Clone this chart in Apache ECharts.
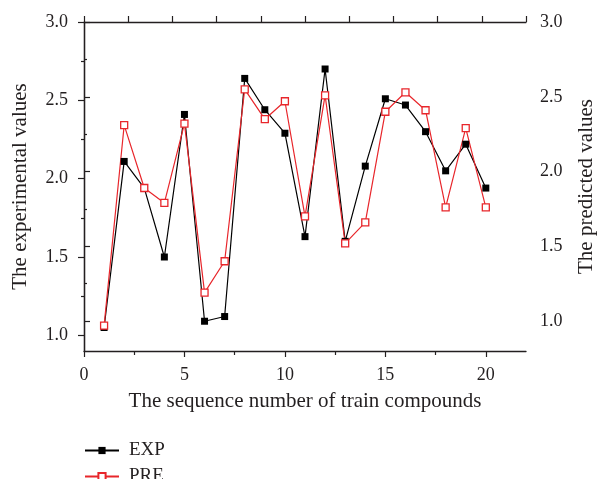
<!doctype html>
<html>
<head>
    <meta charset="UTF-8">
    <title>EXP vs PRE</title>
    <script src="https://cdn.jsdelivr.net/npm/echarts@6/dist/echarts.min.js"></script>
</head>
<body style="margin: 0">
<div id="main" style="width: 597px; height: 479px;"></div>
<script type="text/javascript">
    // sequence numbers of the train compounds
    var seqNo = [1, 2, 3, 4, 5, 6, 7, 8, 9, 10, 11, 12, 13, 14, 15, 16, 17, 18, 19, 20];
    // experimental values (left axis)
    var expValues = [1.05, 2.11, 1.94, 1.50, 2.41, 1.09, 1.12, 2.64, 2.44, 2.29,
        1.63, 2.70, 1.60, 2.08, 2.51, 2.47, 2.30, 2.05, 2.22, 1.94];
    // predicted values (right axis)
    var preValues = [0.97, 2.31, 1.89, 1.79, 2.32, 1.19, 1.40, 2.55, 2.35, 2.47,
        1.70, 2.51, 1.52, 1.66, 2.40, 2.53, 2.41, 1.76, 2.29, 1.76];
    // tick labels
    var xTicks = [0, 5, 10, 15, 20];
    var yTicks = [1.0, 1.5, 2.0, 2.5, 3.0];

    var font = '"Liberation Serif", "DejaVu Serif", serif';
    var ink = '#231f20';

    function pairs(vals) {
        var out = [];
        for (var i = 0; i < seqNo.length; i++) {
            out.push([seqNo[i], vals[i]]);
        }
        return out;
    }

    var myChart = echarts.init(document.getElementById('main'));
    var option = {
        backgroundColor: '#fff',
        animation: false,
        textStyle: {fontFamily: font, color: ink},
        grid: {left: 84, right: 71, top: 22, bottom: 128, containLabel: false, outerBoundsMode: 'none'},
        legend: {
            orient: 'vertical',
            left: 84,
            top: 441,
            height: 60,
            padding: 0,
            itemWidth: 34,
            itemHeight: 9,
            itemGap: 7,
            textStyle: {fontFamily: font, fontSize: 19, color: ink, padding: [0, 0, 0, 5]},
            data: ['EXP', 'PRE']
        },
        xAxis: [
            {
                type: 'value',
                min: 0,
                max: 22,
                name: 'The sequence number of train compounds',
                nameLocation: 'middle',
                nameGap: 40,
                nameTextStyle: {fontFamily: font, fontSize: 21, color: ink},
                axisLine: {lineStyle: {color: ink, width: 1.3}},
                axisTick: {length: 6, lineStyle: {color: ink, width: 1.2}, customValues: xTicks},
                minorTick: {show: true, splitNumber: 2, length: 4, lineStyle: {color: ink, width: 1.2}},
                axisLabel: {
                    margin: 15, fontSize: 18, color: ink, fontFamily: font,
                    customValues: xTicks
                },
                splitLine: {show: false}
            },
            {
                type: 'value',
                position: 'top',
                min: 0,
                max: 10,
                interval: 1,
                axisLine: {show: true, lineStyle: {color: ink, width: 1.3}},
                axisTick: {show: true, inside: false, length: 6, lineStyle: {color: ink, width: 1.2}},
                axisLabel: {show: false},
                splitLine: {show: false}
            }
        ],
        yAxis: [
            {
                type: 'value',
                min: 0.9,
                max: 3.0,
                name: 'The experimental values',
                nameLocation: 'middle',
                nameGap: 53,
                nameTextStyle: {fontFamily: font, fontSize: 21, color: ink},
                axisLine: {show: true, lineStyle: {color: ink, width: 1.3}},
                axisTick: {length: 6, lineStyle: {color: ink, width: 1.2}, customValues: yTicks},
                minorTick: {show: true, splitNumber: 2, length: 3, lineStyle: {color: ink, width: 1.2}},
                axisLabel: {
                    margin: 16, fontSize: 18, color: ink, fontFamily: font,
                    customValues: yTicks,
                    formatter: function (v) { return v.toFixed(1); }
                },
                splitLine: {show: false}
            },
            {
                type: 'value',
                position: 'right',
                min: 0.8,
                max: 3.0,
                name: 'The predicted values',
                nameLocation: 'middle',
                nameGap: 50,
                nameTextStyle: {fontFamily: font, fontSize: 21, color: ink},
                axisLine: {show: true, lineStyle: {color: ink, width: 1.3}},
                axisTick: {length: 6, lineStyle: {color: ink, width: 1.2}, customValues: yTicks},
                minorTick: {show: true, splitNumber: 2, length: 3, lineStyle: {color: ink, width: 1.2}},
                axisLabel: {
                    margin: 14, fontSize: 18, color: ink, fontFamily: font,
                    customValues: yTicks,
                    formatter: function (v) { return v.toFixed(1); }
                },
                splitLine: {show: false}
            }
        ],
        series: [
            {
                name: 'EXP',
                type: 'line',
                xAxisIndex: 0,
                yAxisIndex: 0,
                data: pairs(expValues),
                symbol: 'rect',
                symbolSize: 7,
                lineStyle: {color: '#000', width: 1.2},
                itemStyle: {color: '#000', borderColor: '#000', borderWidth: 0}
            },
            {
                name: 'PRE',
                type: 'line',
                xAxisIndex: 0,
                yAxisIndex: 1,
                data: pairs(preValues),
                symbol: 'rect',
                symbolSize: 7,
                z: 3,
                lineStyle: {color: '#e8262b', width: 1.2},
                itemStyle: {color: '#fff', borderColor: '#e8262b', borderWidth: 1.3}
            }
        ]
    };
    myChart.setOption(option);
</script>
</body>
</html>
